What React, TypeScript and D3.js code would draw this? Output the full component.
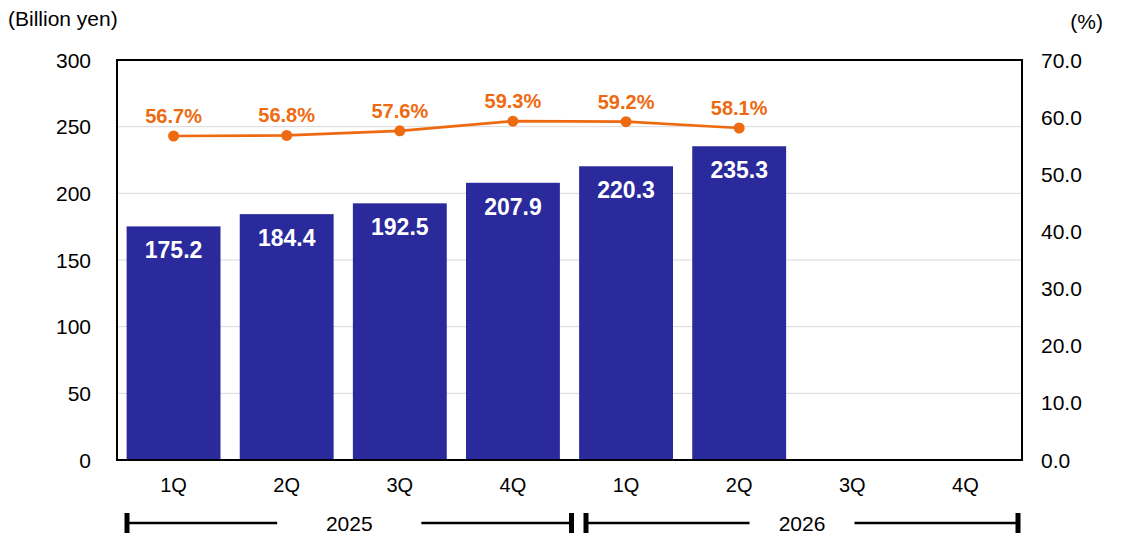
import * as d3 from "d3";

const width = 1136;
const height = 559;
const margin = { top: 60, right: 114, bottom: 100, left: 117 };

const quarters = ["1Q", "2Q", "3Q", "4Q", "1Q", "2Q", "3Q", "4Q"];
const sales = [175.2, 184.4, 192.5, 207.9, 220.3, 235.3];
const ratio = [56.7, 56.8, 57.6, 59.3, 59.2, 58.1];
const years = ["2025", "2026"];
const leftTicks = [0, 50, 100, 150, 200, 250, 300];
const rightTicks = [0, 10, 20, 30, 40, 50, 60, 70];

const barColor = "#2b2a9c";
const lineColor = "#ee6a10";
const font = "'Liberation Sans', Arial, sans-serif";

// bracket layout: [start offset, end offset, half gap in steps]
const bracketLayout = [
  { da: 10, db: 2, gap: 0.637 },
  { da: 16.5, db: -4, gap: 0.464 },
];

const App = () => {
  const x0 = margin.left;
  const x1 = width - margin.right;
  const y0 = height - margin.bottom + 1;
  const y1 = margin.top;

  const ids = quarters.map((_, i) => String(i));
  const x = d3.scaleBand().domain(ids).range([x0, x1]).paddingInner(0.17).paddingOuter(0.085);
  const yL = d3.scaleLinear().domain([0, 300]).range([y0, y1]);
  const yR = d3.scaleLinear().domain([0, 70]).range([y0, y1]);
  const cx = (i: number) => (x(String(i)) as number) + x.bandwidth() / 2;

  const line = d3.line<number>().x((_, i) => cx(i)).y(d => yR(d));

  const step = x.step();
  const brackets = years.map((yr, k) => {
    const L = bracketLayout[k];
    const a = x0 + 4 * k * (x1 - x0) / 8 + L.da;
    const b = x0 + 4 * (k + 1) * (x1 - x0) / 8 + L.db;
    return { yr, a, b, mid: (a + b) / 2, gap: L.gap * step };
  });

  return (
    <svg width={width} height={height} viewBox={`0 0 ${width} ${height}`}
      style={{ position: "absolute", left: 0, top: 0, fontFamily: font }}>
      <rect width={width} height={height} fill="#fff" />
      {leftTicks.slice(1, -1).map(t => (
        <line key={t} x1={x0} x2={x1} y1={yL(t)} y2={yL(t)} stroke="#d9d9d9" strokeWidth={1} />
      ))}
      {sales.map((v, i) => (
        <g key={i}>
          <rect x={x(String(i))} y={yL(v)} width={x.bandwidth()} height={y0 - yL(v)} fill={barColor} />
          <text x={cx(i)} y={yL(v) + 32} textAnchor="middle" fill="#fff" fontSize={23} fontWeight="bold">
            {v.toFixed(1)}
          </text>
        </g>
      ))}
      <rect x={x0} y={y1} width={x1 - x0} height={y0 - y1} fill="none" stroke="#000" strokeWidth={2} />
      <path d={line(ratio) ?? ""} fill="none" stroke={lineColor} strokeWidth={2.75} />
      {ratio.map((v, i) => (
        <g key={i}>
          <circle cx={cx(i)} cy={yR(v)} r={5.5} fill={lineColor} />
          <text x={cx(i)} y={yR(v) - 13} textAnchor="middle" fill={lineColor} fontSize={20} fontWeight="bold">
            {v.toFixed(1)}%
          </text>
        </g>
      ))}
      {leftTicks.map(t => (
        <text key={t} x={91} y={yL(t) + 7.5} textAnchor="end" fontSize={21}>{t}</text>
      ))}
      {rightTicks.map(t => (
        <text key={t} x={1041} y={yR(t) + 7.5} fontSize={21}>{t.toFixed(1)}</text>
      ))}
      <text x={8} y={26} fontSize={21}>(Billion  yen)</text>
      <text x={1103} y={29} textAnchor="end" fontSize={21}>(%)</text>
      {quarters.map((q, i) => (
        <text key={i} x={cx(i)} y={492} textAnchor="middle" fontSize={20}>{q}</text>
      ))}
      {brackets.map(b => (
        <g key={b.yr}>
          <line x1={b.a} x2={b.mid - b.gap} y1={523} y2={523} stroke="#000" strokeWidth={2.5} />
          <line x1={b.mid + b.gap} x2={b.b} y1={523} y2={523} stroke="#000" strokeWidth={2.5} />
          <line x1={b.a} x2={b.a} y1={513} y2={533} stroke="#000" strokeWidth={5} />
          <line x1={b.b} x2={b.b} y1={513} y2={533} stroke="#000" strokeWidth={5} />
          <text x={b.mid} y={531} textAnchor="middle" fontSize={21}>{b.yr}</text>
        </g>
      ))}
    </svg>
  );
};

export default App;
